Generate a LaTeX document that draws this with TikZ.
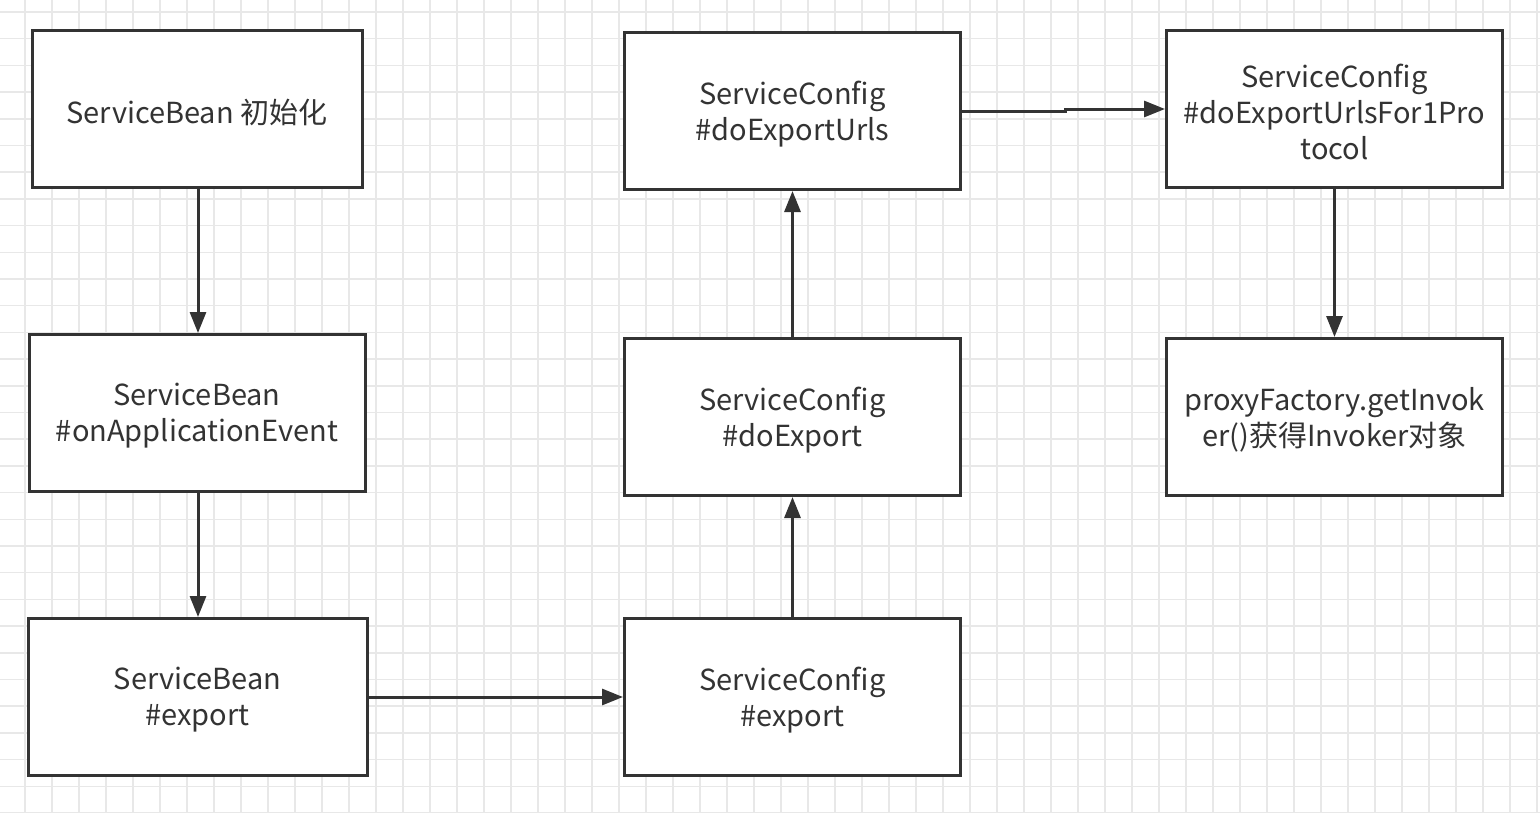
\documentclass[tikz,border=0pt]{standalone}
\usepackage{fontspec}
\newfontfamily\cjk{Noto Sans CJK SC}
\usetikzlibrary{arrows.meta}
\definecolor{ink}{HTML}{333333}
\definecolor{gridc}{HTML}{E8E8E8}
\begin{document}
\begin{tikzpicture}[x=1pt,y=-1pt,
  box/.style={draw=ink,line width=3pt,fill=white,minimum width=336pt,minimum height=157pt,inner sep=0pt},
  lbl/.style={align=center,text=ink,font=\cjk\fontsize{29}{36}\selectfont,inner sep=0pt},
  arr/.style={draw=ink,line width=3pt,-{Triangle[length=21pt,width=16pt]}}]
\useasboundingbox (0,0) rectangle (1540,812);
\fill[white] (0,0) rectangle (1540,812);
\foreach \i in {0,...,56} \draw[gridc,line width=1.5pt] (25+27*\i,0) -- (25+27*\i,812);
\foreach \j in {0,...,30} \draw[gridc,line width=1.5pt] (0,12+26.7*\j) -- (1540,12+26.7*\j);
\node[box,minimum width=330pt] (e1) at (197,109) {};
\node[box] (e2) at (197,413) {};
\node[box,minimum width=339pt] (e3) at (197.5,697) {};
\node[box] (e4) at (792.5,697) {};
\node[box] (e5) at (792.5,417) {};
\node[box] (e6) at (792.5,111) {};
\node[box] (e7) at (1334.5,109) {};
\node[box] (e8) at (1334.5,417) {};
\node[lbl] (t1) at ([yshift=-3pt]e1.center) {ServiceBean 初始化};
\node[lbl] (t2) at ([yshift=-3pt]e2.center) {ServiceBean\\\#onApplicationEvent};
\node[lbl] (t3) at ([yshift=-3pt]e3.center) {ServiceBean\\\#export};
\node[lbl] (t4) at ([yshift=-3pt]e4.center) {ServiceConfig\\\#export};
\node[lbl] (t5) at ([yshift=-3pt]e5.center) {ServiceConfig\\\#doExport};
\node[lbl] (t6) at ([yshift=-3pt]e6.center) {ServiceConfig\\\#doExportUrls};
\node[lbl] (t7) at ([yshift=-3pt]e7.center) {ServiceConfig\\\#doExportUrlsFor1Pro\\tocol};
\node[lbl] (t8) at ([yshift=-3pt]e8.center) {proxyFactory.getInvok\\er()获得Invoker对象};
\draw[arr] (e1.south -| 198,0) -- (e2.north -| 198,0);
\draw[arr] (e2.south -| 198,0) -- (e3.north -| 198,0);
\draw[arr] (e3.east) -- (e4.west);
\draw[arr] (e4.north) -- (e5.south);
\draw[arr] (e5.north) -- (e6.south);
\draw[arr] (e6.east) -- ++(103,0) |- (e7.west);
\draw[arr] (e7.south) -- (e8.north);
\end{tikzpicture}
\end{document}
